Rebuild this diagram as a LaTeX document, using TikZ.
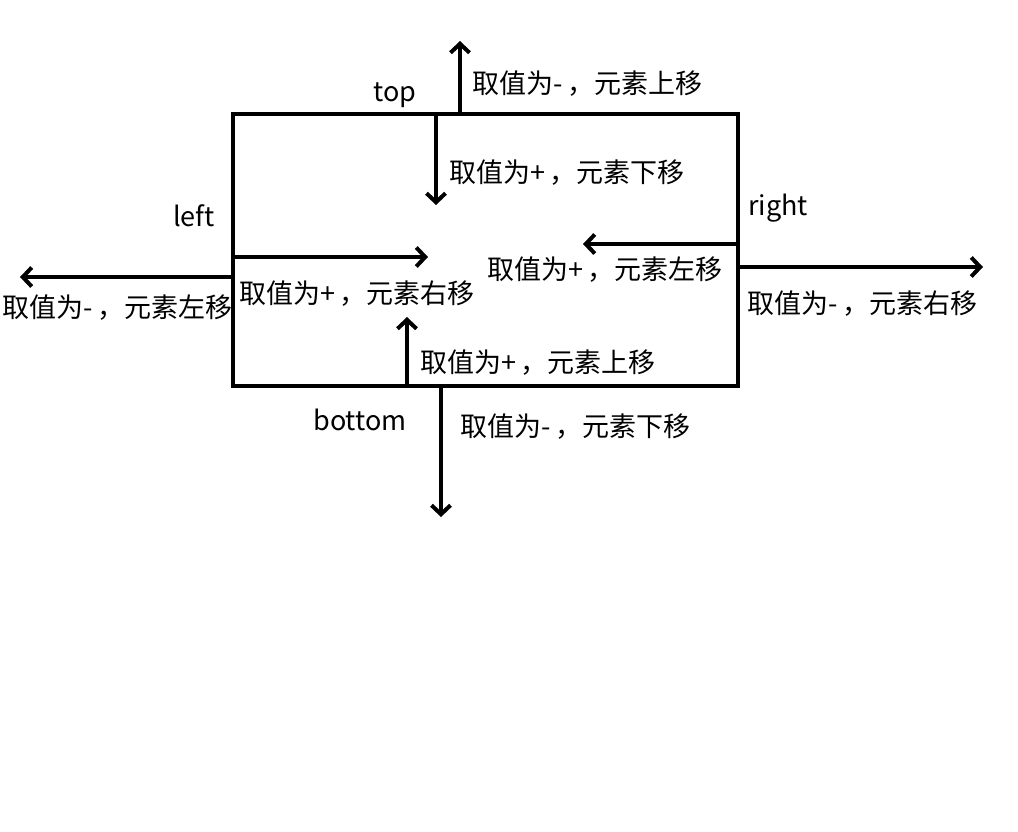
\documentclass[tikz,border=0pt]{standalone}
\usepackage{fontspec}
\newfontfamily\cjk{Noto Sans CJK SC}
\usepackage{tikz}
\usetikzlibrary{arrows.meta}

\begin{document}
\begin{tikzpicture}[x=1pt,y=-1pt,
						boxnode/.style={rectangle, draw=black, line width=4pt, inner sep=0pt, minimum width=505pt, minimum height=272pt},
						arrowline/.style={line width=4pt, -{Straight Barb[length=9pt,width=19pt]}},
						labeltext/.style={inner sep=0pt, font=\cjk\fontsize{27}{30}\selectfont},
						]
						\useasboundingbox (0,0) rectangle (1018,831);
						%Box
						\node[boxnode]      (box) 	at 	(485.5,250)      {};
						%Nodes
						\node[labeltext]              (top)      at 	(395,95)       {top};
						\node[labeltext]              (left)     at 	(194,216)      {left};
						\node[labeltext,anchor=west]  (right)    at 	(748,208)      {right};
						\node[labeltext]              (bottom)   at 	(360,420)      {bottom};
						\node[labeltext,anchor=west]  (topout)   at 	(472,84)       {取值为-\,，元素上移};
						\node[labeltext,anchor=west]  (topin)    at 	(449,173)      {取值为+\,，元素下移};
						\node[labeltext,anchor=west]  (leftin)   at 	(239,294)      {取值为+\,，元素右移};
						\node[labeltext,anchor=west]  (leftout)  at 	(2,308)        {取值为-\,，元素左移};
						\node[labeltext,anchor=west]  (rightin)  at 	(487,270)      {取值为+\,，元素左移};
						\node[labeltext,anchor=west]  (rightout) at 	(747,304)      {取值为-\,，元素右移};
						\node[labeltext,anchor=west]  (botin)    at 	(420,363)      {取值为+\,，元素上移};
						\node[labeltext,anchor=west]  (botout)   at 	(460,427)      {取值为-\,，元素下移};
						%Ends
						\coordinate (t1) at (460,114);  \coordinate (t1e) at (460,41);
						\coordinate (t2) at (436,114);  \coordinate (t2e) at (436,205);
						\coordinate (l1) at (233,257);  \coordinate (l1e) at (428,257);
						\coordinate (l2) at (233,277);  \coordinate (l2e) at (20,277);
						\coordinate (r1) at (738,244);  \coordinate (r1e) at (583,244);
						\coordinate (r2) at (738,267);  \coordinate (r2e) at (983,267);
						\coordinate (b1) at (407,386);  \coordinate (b1e) at (407,317);
						\coordinate (b2) at (441,386);  \coordinate (b2e) at (441,517);
						%Lines
						\draw[arrowline] (t1) -- (t1e);
						\draw[arrowline] (t2) -- (t2e);
						\draw[arrowline] (l1) -- (l1e);
						\draw[arrowline] (l2) -- (l2e);
						\draw[arrowline] (r1) -- (r1e);
						\draw[arrowline] (r2) -- (r2e);
						\draw[arrowline] (b1) -- (b1e);
						\draw[arrowline] (b2) -- (b2e);
					\end{tikzpicture}
\end{document}
